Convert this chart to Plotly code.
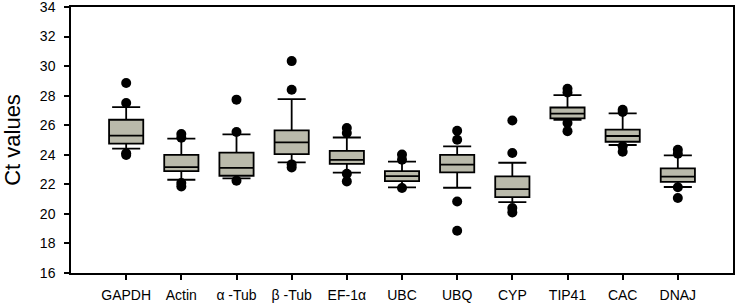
import plotly.graph_objects as go

genes = ["GAPDH", "Actin", "α -Tub", "β -Tub", "EF-1α", "UBC", "UBQ", "CYP", "TIP41", "CAC", "DNAJ"]
lower_fence = [24.41, 22.31, 22.40, 23.48, 22.79, 21.79, 21.77, 20.80, 26.37, 24.66, 21.82]
q1 = [24.75, 22.90, 22.58, 24.05, 23.38, 22.22, 22.81, 21.14, 26.46, 24.88, 22.16]
median = [25.29, 23.17, 23.12, 24.84, 23.65, 22.56, 23.33, 21.68, 26.78, 25.27, 22.52]
q3 = [26.37, 24.00, 24.14, 25.65, 24.27, 22.90, 24.00, 22.54, 27.20, 25.70, 23.08]
upper_fence = [27.23, 25.09, 25.38, 27.77, 25.17, 23.53, 24.57, 23.46, 28.04, 26.80, 23.96]
outliers = {
    "GAPDH": [28.86, 27.50, 24.10, 23.98],
    "Actin": [25.40, 25.15, 22.09, 21.86],
    "α -Tub": [27.73, 25.54, 22.25],
    "β -Tub": [30.34, 28.40, 23.35, 23.14],
    "EF-1α": [25.81, 25.47, 22.72, 22.20],
    "UBC": [24.02, 23.67, 21.75],
    "UBQ": [25.63, 25.02, 20.84, 18.86],
    "CYP": [26.32, 24.12, 20.40, 20.10],
    "TIP41": [28.47, 28.22, 26.15, 25.60],
    "CAC": [27.05, 26.90, 24.57, 24.20],
    "DNAJ": [24.34, 24.07, 21.80, 21.07],
}
y_ticks = [16, 18, 20, 22, 24, 26, 28, 30, 32, 34]

fig = go.Figure()
fig.add_trace(go.Box(
    x=genes, q1=q1, median=median, q3=q3,
    lowerfence=lower_fence, upperfence=upper_fence,
    fillcolor="#BABAAB", line=dict(color="black", width=1.8),
    width=0.62, whiskerwidth=0.82, showlegend=False, hoverinfo="skip",
))
ox, oy = [], []
for g in genes:
    for v in outliers[g]:
        ox.append(g)
        oy.append(v)
fig.add_trace(go.Scatter(
    x=ox, y=oy, mode="markers",
    marker=dict(color="black", size=10),
    showlegend=False, hoverinfo="skip",
))

axis_font = dict(family="Liberation Sans, Arial", size=14, color="black")
fig.update_layout(
    width=737, height=307,
    margin=dict(l=71, r=4, t=7, b=34, autoexpand=False),
    paper_bgcolor="white", plot_bgcolor="white",
    font=axis_font,
    xaxis=dict(
        type="category", range=[-1, 11],
        showline=True, linecolor="black", linewidth=1.5, mirror=True,
        ticks="outside", ticklen=5, tickcolor="black", tickwidth=1.5,
        showgrid=False, zeroline=False, tickfont=axis_font,
        ticklabelstandoff=3, ticklabeloverflow="allow",
    ),
    yaxis=dict(
        range=[16, 34], tickvals=y_ticks,
        showline=True, linecolor="black", linewidth=1.5, mirror=True,
        ticks="outside", ticklen=5, tickcolor="black", tickwidth=1.5,
        showgrid=False, zeroline=False, tickfont=axis_font,
        ticklabelstandoff=6, ticklabeloverflow="allow",
        title=dict(text="Ct values", font=dict(family="Liberation Sans, Arial", size=22, color="black"), standoff=13),
    ),
)
fig.write_html("out.html", config={"displayModeBar": False},
               post_script="document.body.style.margin='0px';")
